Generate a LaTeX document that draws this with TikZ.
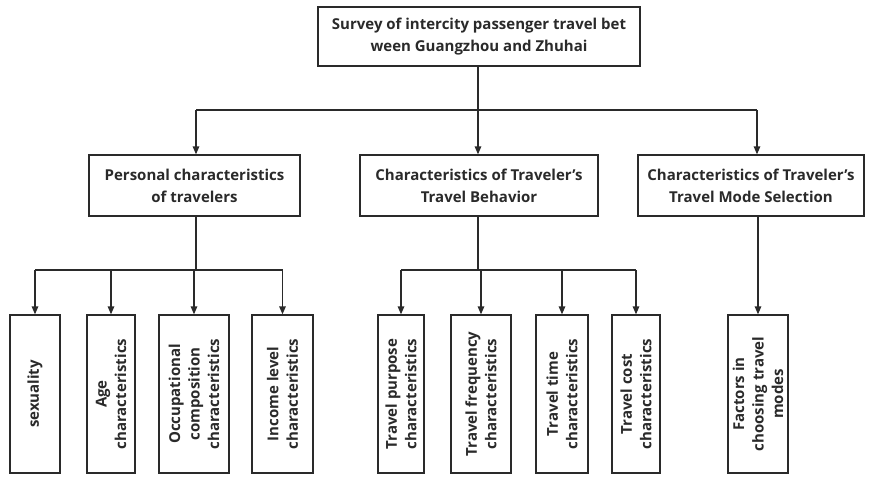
\documentclass[tikz,border=0pt]{standalone}
\usepackage{fontspec}
\setmainfont{Open Sans}
\usetikzlibrary{arrows.meta}
\definecolor{ink}{HTML}{2A2A2A}
\tikzset{
  box/.style={draw=ink, line width=1.3pt, fill=white, text=ink, font=\bfseries\fontsize{15}{22}\selectfont, align=center, inner sep=1pt},
  leaf/.style={box, rotate=90, minimum height=#1, minimum width=158pt, font=\bfseries\fontsize{15}{19.5}\selectfont},
  conn/.style={draw=ink, line width=1.3pt},
  arr/.style={conn, -{Triangle[length=8pt,width=6.5pt]}}
}
\begin{document}
\begin{tikzpicture}[x=1pt,y=-1pt]
\useasboundingbox (0,0) rectangle (876,477);
% top
\node[box, minimum width=322pt, minimum height=59pt] (top) at (479,36.5) {Survey of intercity passenger travel bet\\ween Guangzhou and Zhuhai};
% level 2
\node[box, minimum width=211pt, minimum height=61pt] (pers) at (194.5,185.5) {Personal characteristics\\of travelers};
\node[box, minimum width=238pt, minimum height=61pt] (beh) at (479,185.5) {Characteristics of Traveler's\\Travel Behavior};
\node[box, minimum width=226pt, minimum height=61pt] (mode) at (751,185.5) {Characteristics of Traveler's\\Travel Mode Selection};
% leaves
\node[leaf=50pt] (sex) at (35,394) {sexuality};
\node[leaf=48pt] (age) at (111,394) {Age\\characteristics};
\node[leaf=70pt] (occ) at (194,394) {Occupational\\composition\\characteristics};
\node[leaf=61pt] (inc) at (282.5,394) {Income level\\characteristics};
\node[leaf=46pt] (pur) at (401,394) {Travel purpose\\characteristics};
\node[leaf=60pt] (freq) at (481,394) {Travel frequency\\characteristics};
\node[leaf=52pt] (time) at (562,394) {Travel time\\characteristics};
\node[leaf=48pt] (cost) at (636,394) {Travel cost\\characteristics};
\node[leaf=60pt] (fac) at (758,394) {Factors in\\choosing travel\\modes};
% junctions
\coordinate (j1) at (478,110);
\coordinate (jL) at (196,110);
\coordinate (jR) at (757,110);
\coordinate (j2) at (196,270);
\coordinate (j3) at (478,270);
% top to level 2
\draw[conn] (top.south -| j1) -- (j1);
\draw[conn] (jL) -- (jR);
\draw[arr] (jL) -- (pers.north -| jL);
\draw[arr] (j1) -- (beh.north -| j1);
\draw[arr] (jR) -- (mode.north -| jR);
% personal branch
\draw[conn] (pers.south -| j2) -- (j2);
\draw[conn] (sex.east |- j2) -- (inc.east |- j2);
\draw[arr] (sex.east |- j2) -- (sex.east);
\draw[arr] (age.east |- j2) -- (age.east);
\draw[arr] (occ.east |- j2) -- (occ.east);
\draw[arr] (inc.east |- j2) -- (inc.east);
% behavior branch
\draw[conn] (beh.south -| j3) -- (j3);
\draw[conn] (pur.east |- j3) -- (cost.east |- j3);
\draw[arr] (pur.east |- j3) -- (pur.east);
\draw[arr] (freq.east |- j3) -- (freq.east);
\draw[arr] (time.east |- j3) -- (time.east);
\draw[arr] (cost.east |- j3) -- (cost.east);
% mode branch
\draw[arr] (mode.south -| fac.east) -- (fac.east);
\end{tikzpicture}
\end{document}
